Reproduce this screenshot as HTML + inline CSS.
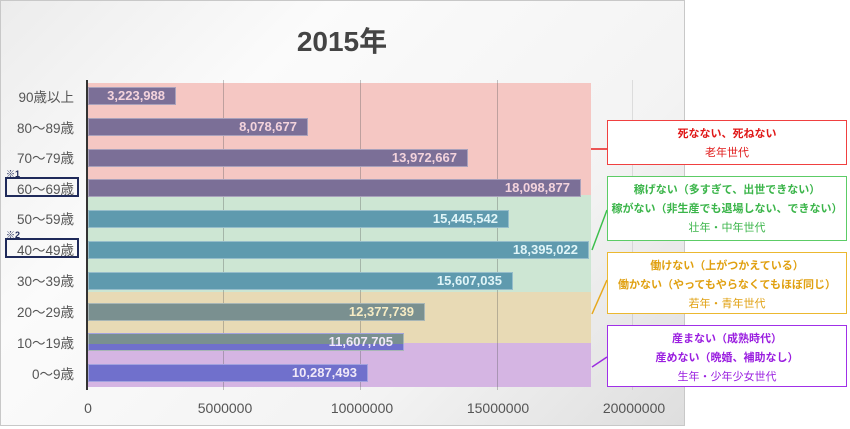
<!DOCTYPE html>
<html><head><meta charset="utf-8"><style>
body{margin:0;width:850px;height:429px;background:#fff;position:relative;overflow:hidden;font-family:"Liberation Sans","Noto Sans CJK JP",sans-serif}
.frame{position:absolute;left:0;top:0;width:683px;height:424px;border:1px solid #c8c8c8;background:linear-gradient(135deg,#ececec 0%,#fbfbfb 30%,#f3f3f3 70%,#dedede 100%)}
.abs{position:absolute}
.band{position:absolute;left:88px;width:503px}
.grid{position:absolute;top:80px;height:310px;width:1px;background:rgba(90,90,90,0.35)}
.bar{position:absolute;left:88px;height:18px;box-sizing:border-box;border:1px solid rgba(255,255,255,0.35);color:#f3d3dc;font-weight:bold;font-size:13px;line-height:16px;text-align:right;padding-right:10px}
.lab{position:absolute;right:776px;font-size:13.5px;color:#555;white-space:nowrap;margin-top:-2px}
.tick{position:absolute;top:400px;font-size:14px;color:#555;transform:translateX(-50%)}
.box{position:absolute;left:607px;width:240px;background:#fff;border:1px solid;text-align:center;font-size:11px;line-height:19px;font-weight:bold;box-sizing:border-box}
.box span{font-weight:normal}
</style></head><body>
<div class="frame"></div>
<div class="abs" style="left:0;width:684px;top:20px;text-align:center;font-size:28px;font-weight:bold;color:#444">2015年</div>
<div class="band" style="top:83px;height:112px;background:#f5c7c3"></div>
<div class="band" style="top:195px;height:97px;background:#cde6d3"></div>
<div class="band" style="top:292px;height:51px;background:#e8dab5"></div>
<div class="band" style="top:343px;height:44px;background:#d5b5e3"></div>
<div class="grid" style="left:223px"></div>
<div class="grid" style="left:360px"></div>
<div class="grid" style="left:497px"></div>
<div class="grid" style="left:632px;background:rgba(90,90,90,0.15)"></div>
<div class="abs" style="left:86px;top:80px;width:2px;height:310px;background:#333"></div>

<div class="bar" style="top:87px;width:88px;background:#7b6f97">3,223,988</div>
<div class="bar" style="top:118px;width:220px;background:#7b6f97">8,078,677</div>
<div class="bar" style="top:149px;width:380px;background:#7b6f97">13,972,667</div>
<div class="bar" style="top:179px;width:493px;background:#7b6f97">18,098,877</div>
<div class="bar" style="top:210px;width:421px;background:#5f9aae;color:#e0f5f8">15,445,542</div>
<div class="bar" style="top:241px;width:501px;background:#5f9aae;color:#e0f5f8">18,395,022</div>
<div class="bar" style="top:272px;width:425px;background:#5f9aae;color:#e0f5f8">15,607,035</div>
<div class="bar" style="top:303px;width:337px;background:#7a9090;color:#f7ecc4">12,377,739</div>
<div class="bar" style="top:333px;width:316px;background:linear-gradient(#7a9090 0,#7a9090 10px,#7070cc 10px);color:#f0e8f8">11,607,705</div>
<div class="bar" style="top:364px;width:280px;background:#7070cc;color:#f0e8f8">10,287,493</div>

<div class="lab" style="top:88px">90歳以上</div>
<div class="lab" style="top:119px">80〜89歳</div>
<div class="lab" style="top:149px">70〜79歳</div>
<div class="abs" style="left:6px;top:167px;font-size:9px;color:#1f2a5a;font-weight:bold">※1</div>
<div class="abs" style="left:5px;top:177px;width:74px;height:20px;border:2px solid #1f2a5a;box-sizing:border-box"></div>
<div class="lab" style="top:180px">60〜69歳</div>
<div class="lab" style="top:210px">50〜59歳</div>
<div class="abs" style="left:6px;top:228px;font-size:9px;color:#1f2a5a;font-weight:bold">※2</div>
<div class="abs" style="left:5px;top:238px;width:74px;height:20px;border:2px solid #1f2a5a;box-sizing:border-box"></div>
<div class="lab" style="top:241px">40〜49歳</div>
<div class="lab" style="top:272px">30〜39歳</div>
<div class="lab" style="top:303px">20〜29歳</div>
<div class="lab" style="top:334px">10〜19歳</div>
<div class="lab" style="top:365px">0〜9歳</div>

<div class="tick" style="left:88px">0</div>
<div class="tick" style="left:225px">5000000</div>
<div class="tick" style="left:362px">10000000</div>
<div class="tick" style="left:498px">15000000</div>
<div class="tick" style="left:634px">20000000</div>

<svg class="abs" style="left:0;top:0" width="850" height="429">
<line x1="591" y1="149" x2="607" y2="149" stroke="#e82020" stroke-width="1.5"/>
<line x1="592" y1="250" x2="607" y2="210" stroke="#3cbf4c" stroke-width="1.5"/>
<line x1="592" y1="314" x2="607" y2="280" stroke="#e6a81e" stroke-width="1.5"/>
<line x1="592" y1="367" x2="607" y2="357" stroke="#9b2ee0" stroke-width="1.5"/>
</svg>
<div class="box" style="top:120px;height:45px;border-color:#f04040;color:#e01818;padding-top:4px">死なない、死ねない<br><span>老年世代</span></div>
<div class="box" style="top:176px;height:65px;border-color:#5ccc66;color:#3bb54a;padding-top:4px">稼げない（多すぎて、出世できない）<br>稼がない（非生産でも退場しない、できない）<br><span>壮年・中年世代</span></div>
<div class="box" style="top:252px;height:62px;border-color:#ebb830;color:#e0a010;padding-top:4px">働けない（上がつかえている）<br>働かない（やってもやらなくてもほぼ同じ）<br><span>若年・青年世代</span></div>
<div class="box" style="top:325px;height:62px;border-color:#a030e8;color:#9a1ee0;padding-top:4px">産まない（成熟時代）<br>産めない（晩婚、補助なし）<br><span>生年・少年少女世代</span></div>
</body></html>
